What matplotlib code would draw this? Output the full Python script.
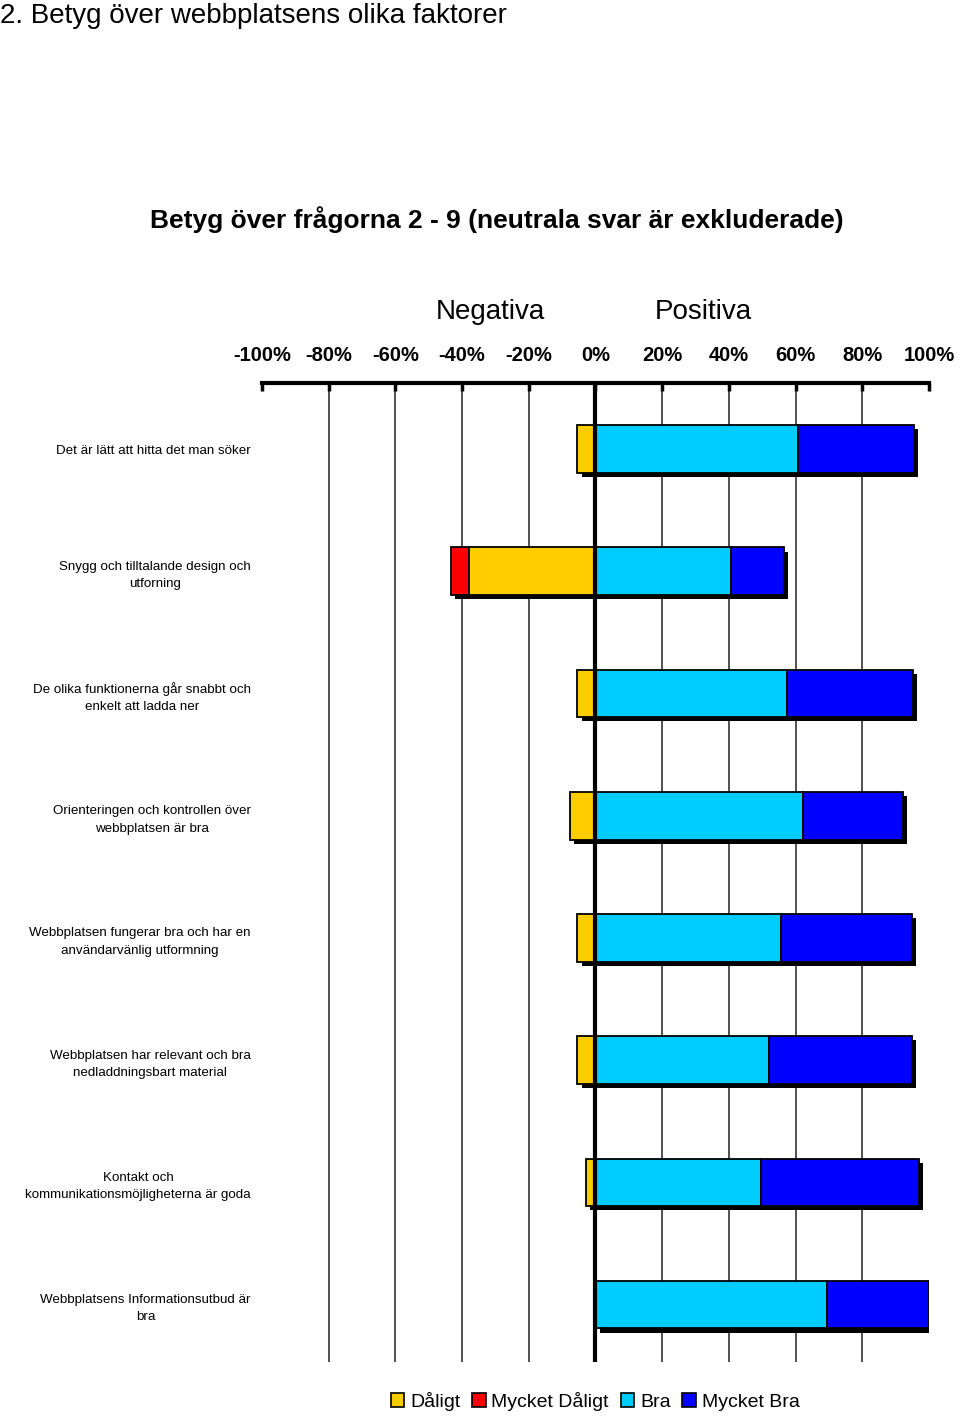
import matplotlib.pyplot as plt
import matplotlib.patheffects as pe
import matplotlib.ticker as mticker
from matplotlib.patches import Patch
import numpy as np

plt.rcParams["font.family"] = ["Liberation Sans", "DejaVu Sans"]

# ── Data (share of non-neutral answers, %) ──
questions = [
    "Det är lätt att hitta det man söker",
    "Snygg och tilltalande design och\nutforning",
    "De olika funktionerna går snabbt och\nenkelt att ladda ner",
    "Orienteringen och kontrollen över\nwebbplatsen är bra",
    "Webbplatsen fungerar bra och har en\nanvändarvänlig utformning",
    "Webbplatsen har relevant och bra\nnedladdningsbart material",
    "Kontakt och\nkommunikationsmöjligheterna är goda",
    "Webbplatsens Informationsutbud är\nbra",
]
daligt        = [5.4, 37.8, 5.4, 7.6, 5.4, 5.4, 2.8, 0.0]
mycket_daligt = [0.0, 5.5, 0.0, 0.0, 0.0, 0.0, 0.0, 0.0]
bra           = [60.7, 40.7, 57.4, 62.2, 55.7, 51.9, 49.7, 69.3]
mycket_bra    = [34.8, 15.7, 37.8, 30.1, 39.2, 43.0, 47.4, 30.7]

tick_values = [-100, -80, -60, -40, -20, 0, 20, 40, 60, 80, 100]
series_names  = ["Dåligt", "Mycket Dåligt", "Bra", "Mycket Bra"]
series_colors = ["#FFCC00", "#FF0000", "#00CCFF", "#0000FF"]

# ── Figure ──
fig = plt.figure(figsize=(9.6, 14.17), dpi=100)
ax = fig.add_axes([0.2729, 0.0388, 0.6948, 0.6909])

y = np.arange(len(questions))
neg_d  = -np.array(daligt)
neg_md = -np.array(mycket_daligt)

shadow = [pe.SimplePatchShadow(offset=(3, -3), shadow_rgbFace="black", alpha=1.0), pe.Normal()]
bar_kw = dict(height=0.39, edgecolor="black", linewidth=1.3, zorder=3)

segments = [
    (neg_md, neg_d, series_colors[1]),
    (neg_d, 0, series_colors[0]),
    (np.array(bra), 0, series_colors[2]),
    (np.array(mycket_bra), np.array(bra), series_colors[3]),
]
for width, left, color in segments:
    bars = ax.barh(y, width, left=left, color=color, **bar_kw)
    for b in bars:
        if b.get_width() != 0:
            b.set_path_effects(shadow)
        else:
            b.set_visible(False)

# grid lines + zero line
for v in tick_values[1:-1]:
    if v == 0:
        continue
    ax.axvline(v, color="#333333", linewidth=1.2, zorder=1)
ax.axvline(0, color="black", linewidth=3, zorder=4)

ax.set_xlim(-100, 100)
ax.set_ylim(7.47, -0.54)

# ── Axes styling ──
for side in ["left", "right", "bottom"]:
    ax.spines[side].set_visible(False)
ax.spines["top"].set_linewidth(3)
ax.xaxis.set_ticks_position("top")
ax.xaxis.set_label_position("top")
ax.set_xticks(tick_values)
ax.xaxis.set_major_formatter(mticker.FuncFormatter(lambda v, _: f"{int(v)}%"))
ax.tick_params(axis="x", direction="in", length=6, width=2.5, pad=13,
               labelsize=14.5)
for lab in ax.get_xticklabels():
    lab.set_fontweight("bold")

ax.set_yticks(y)
ax.set_yticklabels(questions, fontsize=9.6, linespacing=1.6)
ax.tick_params(axis="y", length=0, pad=8)
for lab in ax.get_yticklabels():
    lab.set_multialignment("center")

# ── Texts ──
fig.text(0.0, 0.989, "2. Betyg över webbplatsens olika faktorer",
         fontsize=20, ha="left", va="center")
fig.text(0.518, 0.845, "Betyg över frågorna 2 - 9 (neutrala svar är exkluderade)",
         fontsize=19, fontweight="bold", ha="center", va="center")
fig.text(0.511, 0.780, "Negativa", fontsize=20, ha="center", va="center")
fig.text(0.733, 0.780, "Positiva", fontsize=20, ha="center", va="center")

# ── Legend ──
handles = [Patch(facecolor=c, edgecolor="black", linewidth=1.2) for c in series_colors]
fig.legend(handles, series_names, loc="center", bbox_to_anchor=(0.62, 0.011),
           ncol=4, frameon=False, fontsize=14, handlelength=0.7, handleheight=0.7,
           handletextpad=0.3, columnspacing=0.6)

fig.savefig("out.png", dpi=100)
